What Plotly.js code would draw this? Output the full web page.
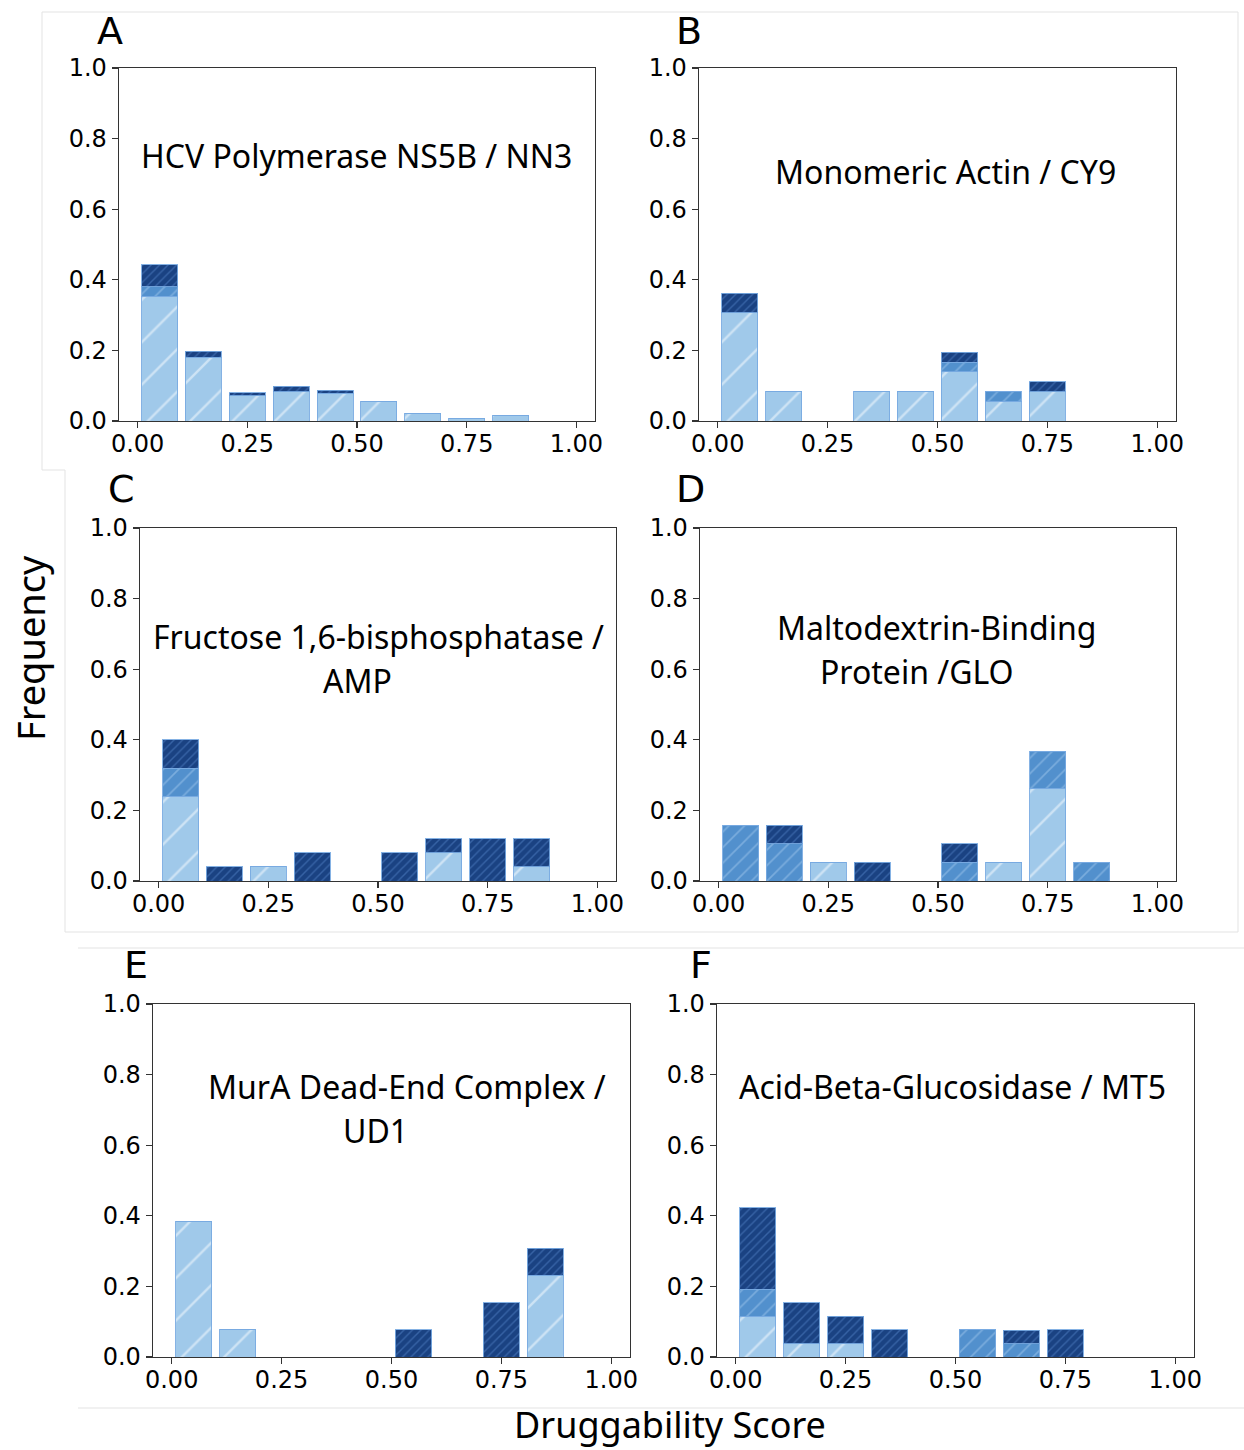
<!DOCTYPE html>
<html>
<head>
<meta charset="utf-8">
<script src="https://cdn.plot.ly/plotly-3.0.1.min.js"></script>
<style>html,body{margin:0;padding:0;background:#fff;}#chart{width:1244px;height:1450px;}</style>
</head>
<body>
<div id="chart"></div>
<script>
// ---- data ----
const binCenters = [0.05, 0.15, 0.25, 0.35, 0.45, 0.55, 0.65, 0.75, 0.85, 0.95];
const xTickVals = [0, 0.25, 0.5, 0.75, 1.0];
const yTickVals = [0, 0.2, 0.4, 0.6, 0.8, 1.0];

const panelLetters = ["A", "B", "C", "D", "E", "F"];
const panelTitles = [
  ["HCV Polymerase NS5B / NN3"],
  ["Monomeric Actin / CY9"],
  ["Fructose 1,6-bisphosphatase /", "AMP"],
  ["Maltodextrin-Binding", "Protein /GLO"],
  ["MurA Dead-End Complex /", "UD1"],
  ["Acid-Beta-Glucosidase / MT5"]
];

const lightA  = [0.354, 0.180, 0.072, 0.083, 0.078, 0.054, 0.022, 0.006, 0.017, 0];
const mediumA = [0.026, 0, 0, 0, 0, 0, 0, 0, 0, 0];
const darkA   = [0.062, 0.017, 0.008, 0.015, 0.009, 0, 0, 0, 0, 0];

const lightB  = [0.306, 0.083, 0, 0.083, 0.083, 0.139, 0.056, 0.083, 0, 0];
const mediumB = [0, 0, 0, 0, 0, 0.028, 0.028, 0, 0, 0];
const darkB   = [0.056, 0, 0, 0, 0, 0.028, 0, 0.028, 0, 0];

const lightC  = [0.24, 0, 0.04, 0, 0, 0, 0.08, 0, 0.04, 0];
const mediumC = [0.08, 0, 0, 0, 0, 0, 0, 0, 0, 0];
const darkC   = [0.08, 0.04, 0, 0.08, 0, 0.08, 0.04, 0.12, 0.08, 0];

const lightD  = [0, 0, 0.053, 0, 0, 0, 0.053, 0.263, 0, 0];
const mediumD = [0.158, 0.105, 0, 0, 0, 0.053, 0, 0.105, 0.053, 0];
const darkD   = [0, 0.053, 0, 0.053, 0, 0.053, 0, 0, 0, 0];

const lightE  = [0.385, 0.077, 0, 0, 0, 0, 0, 0, 0.231, 0];
const mediumE = [0, 0, 0, 0, 0, 0, 0, 0, 0, 0];
const darkE   = [0, 0, 0, 0, 0, 0.077, 0, 0.154, 0.077, 0];

const lightF  = [0.115, 0.038, 0.038, 0, 0, 0, 0, 0, 0, 0];
const mediumF = [0.077, 0, 0, 0, 0, 0.077, 0.038, 0, 0, 0];
const darkF   = [0.231, 0.115, 0.077, 0.077, 0, 0, 0.038, 0.077, 0, 0];

const panels = [
  [lightA, mediumA, darkA],
  [lightB, mediumB, darkB],
  [lightC, mediumC, darkC],
  [lightD, mediumD, darkD],
  [lightE, mediumE, darkE],
  [lightF, mediumF, darkF]
];

// ---- styles / layout geometry (pixels) ----
const W = 1244, H = 1450;
const boxes = [
  {x0: 119, x1: 595, y0: 68, y1: 421},
  {x0: 699, x1: 1176, y0: 68, y1: 421},
  {x0: 140, x1: 616, y0: 528, y1: 881},
  {x0: 700, x1: 1176, y0: 528, y1: 881},
  {x0: 153, x1: 630, y0: 1004, y1: 1357},
  {x0: 717, x1: 1194, y0: 1004, y1: 1357}
];
const letterPos = [[110, 31], [689, 31], [121, 489], [690, 489], [136, 965], [701, 965]];
const titlePos = [
  [[356, 155]],
  [[945, 171]],
  [[378, 636], [357, 680]],
  [[937, 628], [917, 671]],
  [[407, 1086], [375, 1130]],
  [[953, 1086]]
];

const seriesStyle = [
  {color: '#a0c9ea', size: 30, sol: 0.08, fg: 'rgba(255,255,255,0.95)'},
  {color: '#5290cd', size: 11, sol: 0.15, fg: 'rgba(170,205,240,0.9)'},
  {color: '#1a4282', size: 6, sol: 0.24, fg: 'rgba(85,135,205,0.95)'}
];
const titleFont = {family: 'Noto Sans', size: 32, color: '#000'};
const tickFont = {family: 'DejaVu Sans', size: 24, color: '#000'};

const px = v => v / W;
const py = v => 1 - v / H;

const traces = [];
const layout = {
  width: W, height: H,
  margin: {l: 0, r: 0, t: 0, b: 0},
  paper_bgcolor: '#fff', plot_bgcolor: '#fff',
  showlegend: false,
  barmode: 'stack',
  annotations: [],
  shapes: []
};

panels.forEach((series, i) => {
  const n = i === 0 ? '' : String(i + 1);
  const b = boxes[i];
  series.forEach((vals, s) => {
    const st = seriesStyle[s];
    traces.push({
      type: 'bar',
      x: binCenters,
      y: vals,
      width: 0.082,
      xaxis: 'x' + n,
      yaxis: 'y' + n,
      marker: {
        color: st.color,
        line: {color: 'rgba(120,170,225,0.9)', width: 1},
        pattern: {shape: '/', fillmode: 'overlay', bgcolor: st.color, fgcolor: st.fg, size: st.size, solidity: st.sol}
      },
      hoverinfo: 'skip'
    });
  });
  layout['xaxis' + n] = {
    domain: [px(b.x0), px(b.x1)],
    anchor: 'y' + n,
    range: [-0.0425, 1.0425],
    tickvals: xTickVals,
    tickformat: '.2f',
    ticks: 'outside', ticklen: 6, tickwidth: 1.2, tickcolor: '#333',
    ticklabelstandoff: -5,
    showline: true, linecolor: '#333', linewidth: 1.3, mirror: true,
    showgrid: false, zeroline: false,
    tickfont: tickFont
  };
  layout['yaxis' + n] = {
    domain: [py(b.y1), py(b.y0)],
    anchor: 'x' + n,
    range: [0, 1.0],
    tickvals: yTickVals,
    tickformat: '.1f',
    ticks: 'outside', ticklen: 6, tickwidth: 1.2, tickcolor: '#333',
    showline: true, linecolor: '#333', linewidth: 1.3, mirror: true,
    showgrid: false, zeroline: false,
    tickfont: tickFont
  };
  layout.annotations.push({
    text: panelLetters[i], xref: 'paper', yref: 'paper',
    x: px(letterPos[i][0]), y: py(letterPos[i][1]),
    xanchor: 'center', yanchor: 'middle', showarrow: false,
    font: {family: 'DejaVu Sans', size: 38, color: '#000'}
  });
  panelTitles[i].forEach((line, k) => {
    layout.annotations.push({
      text: line, xref: 'paper', yref: 'paper',
      x: px(titlePos[i][k][0]), y: py(titlePos[i][k][1]),
      xanchor: 'center', yanchor: 'middle', showarrow: false,
      font: titleFont
    });
  });
});

layout.annotations.push({
  text: 'Frequency', xref: 'paper', yref: 'paper',
  x: px(30), y: py(648), xanchor: 'center', yanchor: 'middle',
  textangle: -90, showarrow: false,
  font: {family: 'Noto Sans', size: 38, color: '#000'}
});
layout.annotations.push({
  text: 'Druggability Score', xref: 'paper', yref: 'paper',
  x: px(670), y: py(1424), xanchor: 'center', yanchor: 'middle',
  showarrow: false,
  font: {family: 'Noto Sans', size: 36, color: '#000'}
});

// faint composite borders
const borderLines = [
  [42, 12, 1238, 12], [42, 12, 42, 470], [42, 470, 65, 470], [65, 470, 65, 932],
  [65, 932, 1238, 932], [1238, 12, 1238, 932],
  [78, 948, 1244, 948], [78, 1408, 1244, 1408]
];
borderLines.forEach(l => {
  layout.shapes.push({
    type: 'line', xref: 'paper', yref: 'paper', layer: 'below',
    x0: px(l[0]), y0: py(l[1]), x1: px(l[2]), y1: py(l[3]),
    line: {color: '#e3e3e3', width: 1}
  });
});

Plotly.newPlot('chart', traces, layout, {staticPlot: true, displayModeBar: false});
</script>
</body>
</html>
